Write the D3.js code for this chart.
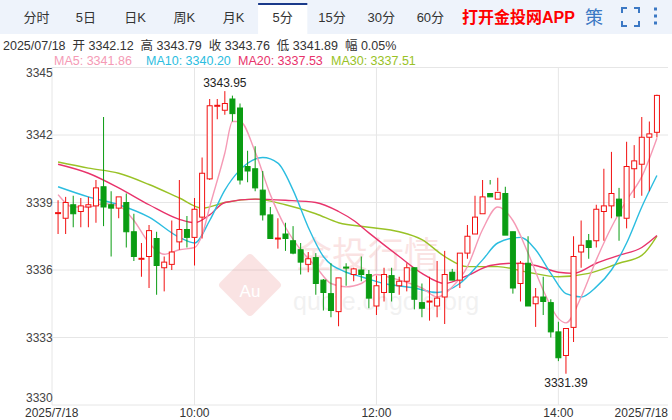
<!DOCTYPE html>
<html><head><meta charset="utf-8">
<script src="https://cdn.jsdelivr.net/npm/d3@7"></script>
<style>body{margin:0;background:#fff;font-family:Arial,"Liberation Sans","Noto Sans CJK SC",sans-serif}</style>
</head><body><svg id="c" width="672" height="420"></svg>
<script>
const tabs = ['分时', '5日', '日K', '周K', '月K', '5分', '15分', '30分', '60分'];
const activeTab = '5分';
// OHLC per 5-minute bar
const opens = [3338.53,3338.3,3338.9,3338.6,3338.8,3338.85,3339.7,3338.9,3338.75,3339.0,3337.7,3336.5,3336.6,3337.4,3336.1,3336.25,3337.25,3337.8,3337.45,3338.35,
  3340.05,3343.3,3343.1,3343.6,3343.2,3340.6,3340.5,3339.55,3338.45,3337.4,3337.6,3337.3,3336.9,3336.25,3336.55,3335.55,3334.95,3334.15,3336.13,3335.8,
  3336.0,3335.8,3334.4,3335.0,3335.75,3335.3,3335.5,3336.1,3334.55,3334.6,3334.4,3334.8,3335.9,3335.55,3336.75,3337.6,3338.5,3339.4,3339.15,3339.4,
  3337.7,3335.4,3336.3,3334.5,3334.8,3334.55,3333.25,3332.2,3333.45,3336.8,3337.3,3337.3,3338.6,3338.85,3339.15,3338.3,3340.5,3340.7,3341.9,3342.12];
const closes = [3338.55,3339.0,3338.5,3338.85,3338.9,3339.65,3338.8,3338.75,3339.25,3337.7,3336.6,3336.52,3337.75,3336.2,3336.35,3336.8,3337.8,3337.45,3338.7,3340.3,
  3343.3,3343.32,3343.4,3342.95,3340.0,3340.4,3339.65,3338.45,3337.4,3337.42,3337.4,3336.75,3336.35,3336.5,3335.4,3335.0,3334.2,3335.65,3336.1,3336.05,
  3335.8,3334.75,3335.3,3335.8,3335.0,3335.5,3336.1,3334.7,3334.3,3334.62,3334.75,3335.8,3335.55,3336.75,3337.5,3338.35,3339.25,3339.25,3339.45,3337.55,
  3335.2,3336.3,3334.4,3334.8,3334.6,3333.25,3332.1,3333.4,3336.6,3337.1,3337.0,3338.7,3338.85,3339.4,3338.4,3340.6,3340.85,3341.9,3342.05,3343.76];
const highs = [3339.1,3339.25,3339.3,3339.2,3339.25,3340.0,3342.8,3339.5,3339.2,3339.4,3338.5,3337.2,3338.0,3337.7,3336.6,3338.2,3340.0,3338.4,3339.2,3341.0,
  3343.6,3343.6,3343.95,3343.75,3343.4,3341.3,3341.5,3340.4,3338.8,3338.3,3338.1,3337.95,3337.2,3336.8,3336.75,3335.6,3336.3,3335.65,3336.3,3336.1,
  3336.6,3336.0,3335.75,3336.1,3336.1,3335.7,3336.3,3336.1,3335.4,3335.7,3336.4,3336.85,3336.05,3336.75,3338.0,3339.3,3340.0,3340.0,3340.1,3339.7,
  3337.7,3336.4,3337.5,3335.2,3335.7,3334.7,3333.7,3333.4,3337.5,3338.2,3337.6,3338.9,3340.5,3341.25,3339.65,3341.7,3341.55,3342.8,3342.6,3343.79];
const lows = [3337.6,3337.6,3337.9,3337.9,3337.9,3338.1,3337.95,3336.6,3338.3,3337.0,3336.4,3335.7,3335.2,3334.9,3335.05,3336.0,3336.9,3337.0,3336.2,3337.4,
  3340.0,3342.7,3342.9,3342.6,3339.8,3339.9,3339.5,3338.2,3337.4,3336.95,3336.85,3336.7,3335.8,3335.9,3334.9,3334.2,3333.9,3333.5,3335.3,3335.5,
  3335.5,3334.3,3334.0,3334.6,3334.6,3334.9,3335.05,3334.25,3333.9,3333.75,3333.9,3333.6,3335.55,3335.2,3336.5,3337.7,3339.0,3339.8,3339.5,3339.0,
  3334.95,3334.6,3334.4,3333.47,3334.0,3333.0,3331.95,3331.39,3332.8,3336.1,3336.5,3337.0,3337.3,3338.3,3337.3,3337.85,3339.2,3339.3,3339.5,3341.89];
// moving averages: [bar index, value]
const ma5 = [[0,3339.35],[2,3338.8],[4,3338.8],[6,3338.95],[8,3338.85],[10,3338.2],[12,3337.2],[14,3336.7],[16,3336.9],[18,3337.0],[19,3337.55],[20,3338.8],[22,3341.2],[23,3342.6],[24,3342.6],[26,3341.25],[28,3339.35],[30,3337.9],[32,3336.9],[34,3336.15],[36,3335.4],[38,3335.25],[40,3335.4],[42,3335.8],[44,3335.65],[46,3335.45],[48,3335.2],[50,3334.8],[52,3335.25],[54,3336.15],[56,3337.8],[58,3338.8],[60,3338.2],[62,3336.75],[64,3335.1],[66,3333.85],[67,3333.65],[69,3334.8],[71,3336.45],[73,3337.9],[75,3339.1],[77,3340.15],[79,3341.86]];
const ma10 = [[0,3339.7],[4,3339.25],[8,3338.9],[12,3338.35],[16,3337.45],[18,3337.2],[20,3338.2],[22,3339.55],[24,3340.45],[27,3341.0],[29,3340.75],[31,3339.55],[33,3337.9],[35,3336.6],[38,3335.9],[40,3335.7],[43,3335.4],[47,3335.2],[50,3335.0],[53,3335.4],[56,3336.45],[58,3337.2],[61,3337.45],[63,3336.9],[65,3335.85],[67,3334.95],[69,3334.8],[71,3335.25],[73,3336.0],[75,3337.2],[77,3338.8],[79,3340.2]];
const ma20 = [[0,3340.7],[4,3340.3],[8,3339.65],[12,3338.9],[16,3338.25],[18,3338.1],[20,3338.45],[22,3339.0],[26,3339.15],[30,3339.1],[34,3339.0],[37,3338.6],[39,3338.2],[41,3337.65],[45,3336.6],[48,3335.85],[51,3335.4],[54,3335.75],[57,3336.2],[60,3336.3],[63,3336.2],[66,3335.9],[68,3335.85],[71,3336.3],[74,3336.65],[77,3337.0],[79,3337.53]];
const ma30 = [[0,3340.8],[4,3340.53],[8,3340.3],[12,3339.8],[16,3339.2],[19,3338.75],[22,3339.0],[26,3339.15],[30,3338.9],[34,3338.5],[37,3338.1],[41,3337.9],[45,3337.7],[48,3337.35],[51,3336.6],[54,3336.15],[58,3336.15],[62,3335.9],[66,3335.7],[70,3335.85],[74,3336.3],[77,3336.65],[79,3337.51]];
const yTicks = [3330, 3333, 3336, 3339, 3342, 3345];
const timeTicks = [[18,'10:00'],[42,'12:00'],[66,'14:00']];

const svg = d3.select('#c');
const red = '#f21010', green = '#0a9c12';

// tab bar
svg.append('rect').attr('width', 672).attr('height', 34).attr('fill', '#eef3fb');
const tabX = d3.scaleBand().domain(tabs).range([12, 455]);
tabs.forEach((t) => {
  const x = tabX(t);
  if (t === activeTab) {
    svg.append('rect').attr('x', x).attr('y', 3).attr('width', tabX.bandwidth()).attr('height', 32).attr('fill', '#fff');
    svg.append('rect').attr('x', x).attr('y', 3).attr('width', tabX.bandwidth()).attr('height', 2).attr('fill', '#1a3a8a');
  }
  svg.append('text').attr('x', x + tabX.bandwidth() / 2).attr('y', 22).attr('text-anchor', 'middle')
    .attr('font-size', 13).attr('fill', '#333').text(t);
});
svg.append('text').attr('x', 462).attr('y', 23).attr('font-size', 16).attr('font-weight', 'bold').attr('fill', '#f00').text('打开金投网APP');
svg.append('text').attr('x', 585).attr('y', 24).attr('font-size', 18).attr('fill', '#3b78c4').text('策');
svg.append('path').attr('d', 'M622,13v-5h5M634,8h5v5M639,21v5h-5M627,26h-5v-5').attr('fill', 'none').attr('stroke', '#3b78c4').attr('stroke-width', 2);
[9, 16, 23].forEach((y) => svg.append('rect').attr('x', 654).attr('y', y - 1.5).attr('width', 3).attr('height', 3).attr('fill', '#3b78c4'));

// header
svg.append('text').attr('x', 3).attr('y', 50).attr('font-size', 12.5).attr('fill', '#333')
  .style('white-space', 'pre').text('2025/07/18  开 3342.12  高 3343.79  收 3343.76  低 3341.89  幅 0.05%');
const maInfo = [['MA5: 3341.86', '#f59ab5', 54], ['MA10: 3340.20', '#2bbde0', 146], ['MA20: 3337.53', '#e8336b', 238], ['MA30: 3337.51', '#99c226', 331]];
maInfo.forEach(([t, c, x]) => svg.append('text').attr('x', x).attr('y', 65).attr('font-size', 12.5).attr('fill', c).text(t));

// scales
const x = d3.scaleLinear().domain([-0.8, 79.8]).range([52, 663]);
const y = d3.scaleLinear().domain([3330, 3345]).range([405, 67.5]);

// grid
svg.append('g').selectAll('line').data(yTicks).join('line')
  .attr('x1', 52).attr('x2', 668).attr('y1', (d) => y(d)).attr('y2', (d) => y(d)).attr('stroke', '#e6e6e6');
svg.append('g').selectAll('line').data(timeTicks).join('line')
  .attr('x1', (d) => x(d[0])).attr('x2', (d) => x(d[0])).attr('y1', 67).attr('y2', 405).attr('stroke', '#e6e6e6');
svg.append('line').attr('x1', 52).attr('x2', 52).attr('y1', 67).attr('y2', 405).attr('stroke', '#e6e6e6');
svg.append('g').selectAll('text').data(yTicks).join('text')
  .attr('x', 26).attr('y', (d) => (d === 3345 ? y(d) + 9 : d === 3330 ? y(d) - 3 : y(d) + 4))
  .attr('font-size', 12).attr('fill', '#444').text((d) => d);
svg.append('g').selectAll('text').data(timeTicks).join('text')
  .attr('x', (d) => x(d[0])).attr('y', 417).attr('text-anchor', 'middle').attr('font-size', 12).attr('fill', '#333').text((d) => d[1]);
svg.append('text').attr('x', 25).attr('y', 417).attr('font-size', 12).attr('fill', '#333').text('2025/7/18');
svg.append('text').attr('x', 668).attr('y', 417).attr('text-anchor', 'end').attr('font-size', 12).attr('fill', '#333').text('2025/7/18');

// watermark
const wm = svg.append('g').attr('opacity', 0.13);
wm.append('rect').attr('x', 227).attr('y', 262).attr('width', 46).attr('height', 46).attr('rx', 4).attr('transform', 'rotate(45 250 285)').attr('fill', '#d33');
wm.append('text').attr('x', 250).attr('y', 297).attr('text-anchor', 'middle').attr('font-size', 17).attr('fill', '#fff').text('Au');
wm.append('text').attr('x', 296).attr('y', 268).attr('font-size', 36).attr('fill', '#d33').text('金投行情');
wm.append('text').attr('x', 293).attr('y', 310).attr('font-size', 25).attr('fill', '#999').text('quote.cngold.org');

// MA lines
const line = d3.line().x((d) => x(d[0])).y((d) => y(d[1])).curve(d3.curveMonotoneX);
[[ma30, '#99c226'], [ma20, '#e8336b'], [ma10, '#2bbde0'], [ma5, '#f59ab5']].forEach(([d, c]) => {
  svg.append('path').attr('d', line(d)).attr('fill', 'none').attr('stroke', c).attr('stroke-width', 1.4);
});

// candles
const bars = opens.map((o, i) => ({ i, o, c: closes[i], h: highs[i], l: lows[i] }));
const g = svg.append('g');
const bw = 5;
g.selectAll('line').data(bars).join('line')
  .attr('x1', (d) => x(d.i)).attr('x2', (d) => x(d.i)).attr('y1', (d) => y(d.h)).attr('y2', (d) => y(d.l))
  .attr('stroke', (d) => (d.c >= d.o ? red : green));
g.selectAll('rect').data(bars).join('rect')
  .attr('x', (d) => x(d.i) - bw / 2).attr('width', bw)
  .attr('y', (d) => y(Math.max(d.o, d.c)))
  .attr('height', (d) => Math.max(1, Math.abs(y(d.o) - y(d.c))))
  .attr('fill', (d) => (d.c >= d.o ? '#fff' : green))
  .attr('stroke', (d) => (d.c >= d.o ? red : green));

// extremes
const hi = d3.maxIndex(highs), lo = d3.minIndex(lows);
svg.append('text').attr('x', x(hi)).attr('y', y(highs[hi]) - 4).attr('text-anchor', 'middle').attr('font-size', 12).attr('fill', '#222').text(highs[hi].toFixed(2));
svg.append('text').attr('x', x(lo)).attr('y', y(lows[lo]) + 13).attr('text-anchor', 'middle').attr('font-size', 12).attr('fill', '#222').text(lows[lo].toFixed(2));
</script></body></html>
